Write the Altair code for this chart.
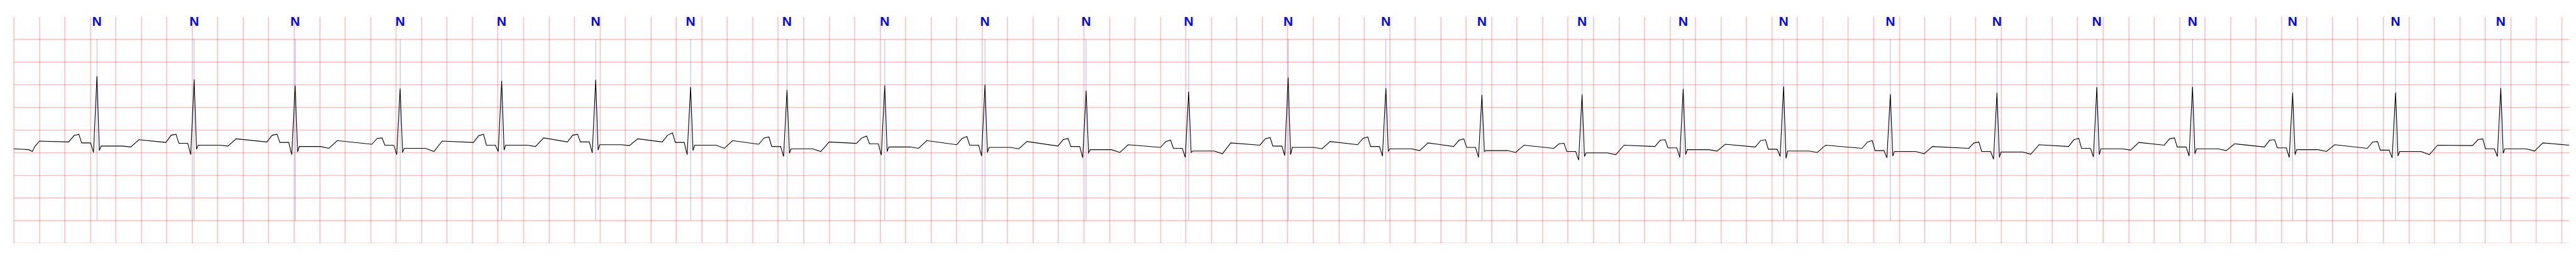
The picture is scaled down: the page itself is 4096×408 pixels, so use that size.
import altair as alt
import pandas as pd

# ---- beat annotations (R-peak time in s, label) ----
r_t = [0.654, 1.417, 2.210, 3.034, 3.831, 4.569, 5.314, 6.071, 6.838, 7.625,
       8.419, 9.224, 10.005, 10.772, 11.526, 12.312, 13.106, 13.894, 14.732,
       15.569, 16.353, 17.104, 17.890, 18.698, 19.524]
labels = ["N"] * 25

# ---- per-beat levels (mV) ----
r_mv = [1.18, 1.11, 0.975, 0.91, 1.08, 1.10, 0.94, 0.88, 0.98, 0.99, 0.86, 0.84,
        1.15, 0.92, 0.77, 0.78, 0.90, 0.96, 0.785, 0.815, 0.94, 0.95, 0.82, 0.82, 0.92]
q_mv = [-0.50, -0.55, -0.55, -0.55, -0.48, -0.51, -0.55, -0.59, -0.56, -0.58, -0.62, -0.61,
        -0.57, -0.58, -0.61, -0.67, -0.61, -0.59, -0.62, -0.65, -0.60, -0.58, -0.61, -0.62, -0.59]
s_mv = [-0.46, -0.43, -0.49, -0.50, -0.45, -0.45, -0.46, -0.52, -0.48, -0.50, -0.51, -0.50,
        -0.55, -0.47, -0.48, -0.59, -0.55, -0.63, -0.58, -0.61, -0.55, -0.53, -0.55, -0.58, -0.52]
st_mv = [-0.36, -0.34, -0.37, -0.41, -0.34, -0.33, -0.34, -0.42, -0.38, -0.39, -0.44, -0.47,
         -0.39, -0.42, -0.46, -0.51, -0.44, -0.47, -0.48, -0.49, -0.42, -0.42, -0.44, -0.48, -0.42]
std_mv = [-0.38, -0.36, -0.41, -0.48, -0.37, -0.35, -0.41, -0.48, -0.41, -0.42, -0.50, -0.53,
          -0.42, -0.46, -0.50, -0.55, -0.47, -0.50, -0.53, -0.54, -0.45, -0.46, -0.48, -0.55, -0.47]
t_mv = [-0.22, -0.20, -0.24, -0.25, -0.18, -0.20, -0.24, -0.27, -0.24, -0.26, -0.33, -0.29,
        -0.26, -0.29, -0.34, -0.34, -0.32, -0.34, -0.37, -0.33, -0.28, -0.31, -0.33, -0.34, -0.29]
te_mv = [-0.27, -0.28, -0.27, -0.32, -0.28, -0.27, -0.27, -0.32, -0.30, -0.33, -0.36, -0.39,
         -0.34, -0.33, -0.37, -0.41, -0.37, -0.38, -0.41, -0.41, -0.37, -0.34, -0.38, -0.41, -0.35]
p_mv = [-0.13, -0.12, -0.12, -0.19, -0.13, -0.12, -0.12, -0.18, -0.18, -0.19, -0.22, -0.26,
        -0.20, -0.19, -0.23, -0.31, -0.23, -0.24, -0.27, -0.29, -0.22, -0.20, -0.23, -0.27, -0.22]
notch_mv = [-0.10, -0.10, -0.10, -0.18, -0.10, -0.10, -0.07, -0.16, -0.14, -0.15, -0.19, -0.23,
            -0.17, -0.16, -0.20, -0.30, -0.22, -0.22, -0.24, -0.27, -0.19, -0.18, -0.22, -0.26, -0.20]
pr_mv = [-0.29, -0.30, -0.28, -0.34, -0.34, -0.27, -0.28, -0.37, -0.31, -0.34, -0.37, -0.41,
         -0.36, -0.37, -0.39, -0.48, -0.40, -0.43, -0.46, -0.48, -0.41, -0.38, -0.40, -0.45, -0.42]

# trace before the first and after the last beat
lead_in_t = [0.0, 0.07, 0.12, 0.147, 0.166, 0.203]
lead_in_mv = [-0.42, -0.43, -0.44, -0.48, -0.37, -0.25]
lead_out_t = [20.06]
lead_out_mv = [-0.34]

# time offsets (s) of the read features relative to each R peak
offs = [-0.222, -0.180, -0.142, -0.120, -0.050, -0.027, 0.0, 0.019, 0.032, 0.200, 0.265, 0.330]

rows = [{"t": t, "mv": v} for t, v in zip(lead_in_t, lead_in_mv)]
for i, R in enumerate(r_t):
    vals = [te_mv[i], p_mv[i], notch_mv[i], pr_mv[i], pr_mv[i], q_mv[i], r_mv[i],
            s_mv[i], st_mv[i], st_mv[i], std_mv[i], t_mv[i]]
    for o, v in zip(offs, vals):
        rows.append({"t": round(R + o, 4), "mv": v})
rows += [{"t": t, "mv": v} for t, v in zip(lead_out_t, lead_out_mv)]
trace = pd.DataFrame(rows)
ann = pd.DataFrame({"t": r_t, "label": labels})

T_MAX = 20.06
xs = alt.Scale(domain=[0, T_MAX], nice=False, zero=False)
ys = alt.Scale(domain=[-2.5, 2.5], nice=False, zero=False)
x_grid = [round(0.2 * k, 1) for k in range(101)]
y_grid = [round(-2.5 + 0.5 * k, 1) for k in range(10)]

ax_x = alt.Axis(values=x_grid, labels=False, ticks=False, domain=False, title=None, grid=True)
ax_y = alt.Axis(values=y_grid, labels=False, ticks=False, domain=False, title=None, grid=True)

rules = alt.Chart(ann).mark_rule(color="#0000ff", opacity=0.5, strokeWidth=0.6).encode(
    x=alt.X("t:Q", scale=xs, axis=ax_x),
    y=alt.datum(2.0, scale=ys, axis=ax_y),
    y2=alt.datum(-2.0),
)

line = alt.Chart(trace).mark_line(color="black", strokeWidth=1.1).encode(
    x=alt.X("t:Q", scale=xs, axis=ax_x),
    y=alt.Y("mv:Q", scale=ys, axis=ax_y),
)

text = alt.Chart(ann).mark_text(
    color="#0000ff", fontSize=21, fontWeight="bold", font="Liberation Sans",
    align="center", baseline="alphabetic",
).encode(
    x=alt.X("t:Q", scale=xs, axis=ax_x),
    y=alt.datum(2.29, scale=ys, axis=ax_y),
    text="label:N",
)

chart = alt.layer(rules, line, text).properties(
    width=4067, height=360,
    padding={"left": 10.7, "top": 16, "right": 0, "bottom": 0},
    background="white",
).configure_view(stroke=None).configure_axis(
    gridColor="red", gridOpacity=0.25, gridWidth=1.6
)

chart.save("out.html", embed_options={"renderer": "svg", "actions": False})
